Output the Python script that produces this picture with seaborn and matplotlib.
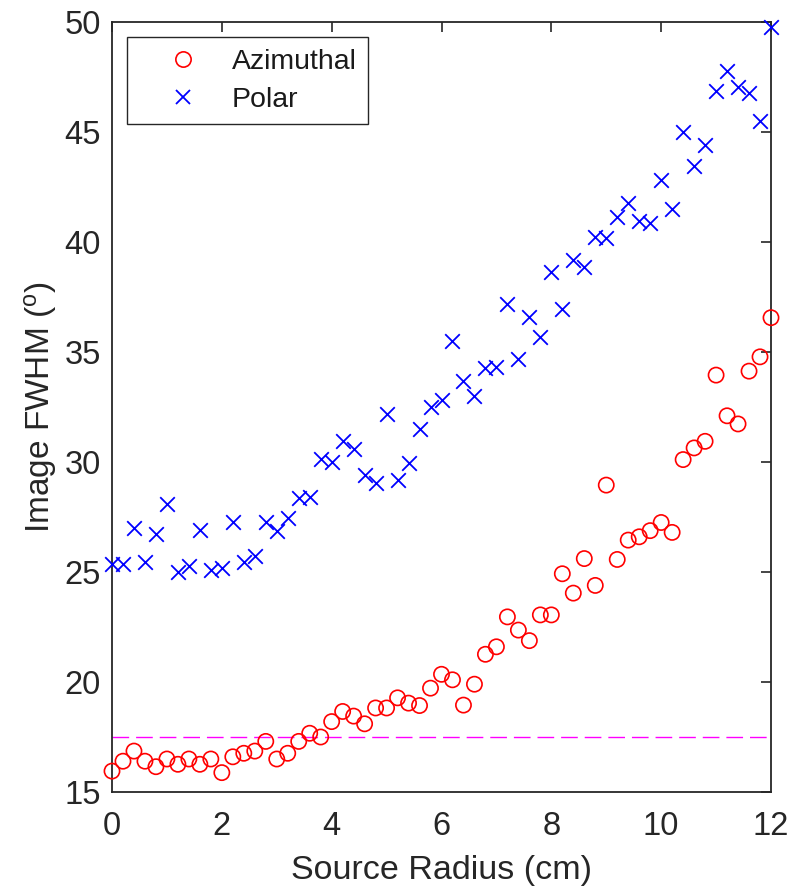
import numpy as np
import pandas as pd
import matplotlib
matplotlib.use("Agg")
import matplotlib.pyplot as plt
from matplotlib.lines import Line2D
import seaborn as sns

# Source radius positions (cm)
radius = [round(0.2 * i, 1) for i in range(61)]

# Image FWHM along the azimuthal direction (deg)
azimuthal = [
    15.95, 16.4, 16.86, 16.4, 16.15, 16.5, 16.26, 16.5, 16.26, 16.5,
    15.88, 16.6, 16.76, 16.86, 17.3, 16.5, 16.76, 17.3, 17.67, 17.5,
    18.2, 18.66, 18.45, 18.1, 18.82, 18.82, 19.28, 19.04, 18.93, 19.72,
    20.35, 20.1, 18.95, 19.9, 21.26, 21.6, 22.96, 22.36, 21.88, 23.05,
    23.05, 24.92, 24.04, 25.61, 24.39, 28.95, 25.57, 26.45, 26.6, 26.88,
    27.25, 26.8, 30.11, 30.64, 30.94, 33.95, 32.1, 31.73, 34.13, 34.78,
    36.56,
]

# Image FWHM along the polar direction (deg)
polar = [
    25.36, 25.36, 26.98, 25.47, 26.73, 28.1, 24.99, 25.29, 26.9, 25.1,
    25.2, 27.26, 25.47, 25.74, 27.26, 26.88, 27.47, 28.35, 28.42, 30.12,
    30.0, 30.95, 30.58, 29.4, 29.03, 32.18, 29.2, 29.94, 31.48, 32.5,
    32.8, 35.5, 33.7, 33.0, 34.26, 34.33, 37.2, 34.7, 36.6, 35.7,
    38.62, 36.94, 39.18, 38.88, 40.24, 40.2, 41.15, 41.79, 40.95, 40.85,
    42.8, 41.48, 44.98, 43.47, 44.43, 46.86, 47.79, 47.06, 46.79, 45.51,
    49.76,
]

# Reference level drawn as a dashed horizontal line (deg)
reference_level = 17.5

series_labels = ["Azimuthal", "Polar"]
x_ticks = [0, 2, 4, 6, 8, 10, 12]
y_ticks = [15, 20, 25, 30, 35, 40, 45, 50]

df = pd.DataFrame({"radius": radius, "Azimuthal": azimuthal, "Polar": polar})

sns.set_style("white")
plt.rcParams["font.family"] = ["Liberation Sans", "DejaVu Sans"]
plt.rcParams["mathtext.fontset"] = "custom"
plt.rcParams["mathtext.rm"] = "Liberation Sans"

fig = plt.figure(figsize=(7.92, 8.9), dpi=100)
ax = fig.add_axes([112 / 792, 98 / 890, 659 / 792, 770 / 890])

red = "#ff0000"
blue = "#0000ff"
magenta = "#ff00ff"
axis_col = "#262626"

ax.axhline(reference_level, color=magenta, lw=1.0, dashes=(12, 5), zorder=1)

sns.scatterplot(data=df, x="radius", y="Azimuthal", ax=ax, marker="o",
                s=120, facecolor="none", edgecolor=red, linewidth=1.2,
                zorder=3, clip_on=False)
sns.scatterplot(data=df, x="radius", y="Polar", ax=ax, marker="x",
                s=110, color=blue, linewidth=1.3, zorder=3, clip_on=False)

ax.set_xlim(0, 12)
ax.set_ylim(15, 50)
ax.set_xticks(x_ticks)
ax.set_yticks(y_ticks)
ax.tick_params(axis="both", which="both", direction="in", length=7, width=1.2,
               colors=axis_col, labelsize=23.5, top=True, right=True,
               labeltop=False, labelright=False)
ax.tick_params(axis="x", pad=14)
ax.tick_params(axis="y", pad=8)
for sp in ax.spines.values():
    sp.set_visible(True)
    sp.set_color(axis_col)
    sp.set_linewidth(1.3)

ax.set_xlabel("Source Radius (cm)", fontsize=24.5, color=axis_col, labelpad=9)
ax.set_ylabel(r"Image FWHM ($\mathregular{^o}$)", fontsize=24,
              color=axis_col, labelpad=4)

handles = [
    Line2D([], [], ls="none", marker="o", ms=11, mfc="none", mec=red, mew=1.2),
    Line2D([], [], ls="none", marker="x", ms=10.5, color=blue, mew=1.3),
]
leg = ax.legend(handles, series_labels, loc="upper left",
                bbox_to_anchor=(15 / 659, 755 / 770), borderaxespad=0,
                fontsize=20.5, frameon=True, fancybox=False, framealpha=1,
                edgecolor=axis_col, handlelength=3.1, handletextpad=0.16,
                borderpad=0.41, labelspacing=0.42)
leg.get_frame().set_linewidth(1.0)
for t in leg.get_texts():
    t.set_color("#1a1a1a")

fig.savefig("out.png", dpi=100)
